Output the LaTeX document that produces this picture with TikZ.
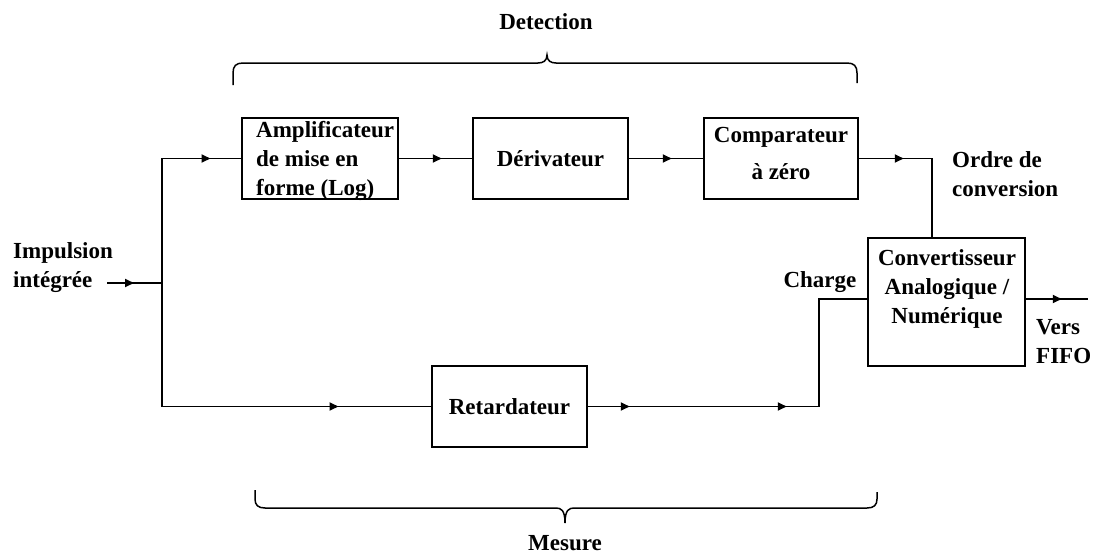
\documentclass[tikz,border=0pt]{standalone}
\usepackage{fontspec}
\setmainfont{Liberation Serif}
\usetikzlibrary{arrows.meta,decorations.markings}
\tikzset{
  lbl/.style={font=\bfseries\fontsize{23}{29}\selectfont, inner sep=0pt},
  blk/.style={draw, line width=1.5pt, inner sep=0pt, font=\bfseries\fontsize{23}{29}\selectfont},
  wire/.style={line width=1.8pt},
  tipat/.style={postaction={decorate, decoration={markings, mark=at position #1 with {\arrow{Triangle[length=9pt,width=8pt]}}}}},
  brc/.style={line width=1.5pt},
}
\begin{document}
\begin{tikzpicture}[x=1pt,y=-1pt]
\useasboundingbox (0,0) rectangle (1093,557);
\fill[white] (0,0) rectangle (1093,557);

% blocks
\node[blk, minimum width=156pt, minimum height=81pt] (amp) at (320,158.5) {};
\node[blk, minimum width=155pt, minimum height=81pt] (der) at (550.5,158.5) {Dérivateur};
\node[blk, minimum width=154pt, minimum height=81pt] (comp) at (781,158.5) {};
\node[blk, minimum width=157pt, minimum height=128pt] (conv) at (946.5,302) {};
\node[blk, minimum width=155pt, minimum height=81pt] (ret) at (509.5,406.5) {Retardateur};

% block texts
\node[lbl, anchor=west, align=left] (amptxt) at (256,161) {Amplificateur\\de mise en\\forme (Log)};
\node[lbl, align=center] (comptxt) at (781,153) {Comparateur\\[8pt]à zéro};
\node[lbl, align=center] (convtxt) at (947,289) {Convertisseur\\Analogique /\\Numérique};

% labels
\node[lbl, anchor=west, align=left] (imp) at (13,268) {Impulsion\\intégrée};
\node[lbl, anchor=west, align=left] (ordre) at (952,174) {Ordre de\\conversion};
\node[lbl, anchor=west, align=left] (vers) at (1036,342) {Vers\\FIFO};
\node[lbl] (charge) at (820,282) {Charge};
\node[lbl] (detection) at (546,22) {Detection};
\node[lbl] (mesure) at (565,543) {Mesure};

% coordinates
\coordinate (in) at (107,283);
\coordinate (j) at (162,283);
\coordinate (k) at (932,159);
\coordinate (chg) at (819,299);
\coordinate (out) at (1088,299);

% connectors
\draw[wire, tipat=27pt] (in) -- (j);
\draw[wire, tipat=173pt] (j) |- (amp.west);
\draw[wire, tipat=300pt] (j) |- (ret.west);
\draw[wire, tipat=43pt] (amp.east) -- (der.west);
\draw[wire, tipat=43pt] (der.east) -- (comp.west);
\draw[wire, tipat=45pt] (comp.east) -| (k |- conv.north);
\draw[wire, tipat=42pt, tipat=199pt] (ret.east) -| (chg) -- (chg -| conv.west);
\draw[wire, tipat=36pt] (chg -| conv.east) -- (out);

% braces
\draw[brc] (233,85) -- (233,73) .. controls (233,66) and (236,63) .. (243,63)
  -- (538,63) .. controls (543,63) and (547,61) .. (547,55)
  .. controls (547,61) and (551,63) .. (556,63)
  -- (847,63) .. controls (854,63) and (857,66) .. (857,73) -- (857,83);
\draw[brc] (255,490) -- (255,499) .. controls (255,505) and (258,508) .. (265,508)
  -- (556,508) .. controls (561,508) and (565,510) .. (565,523)
  .. controls (565,510) and (569,508) .. (574,508)
  -- (867,508) .. controls (874,508) and (877,505) .. (877,499) -- (877,492);
\end{tikzpicture}
\end{document}
